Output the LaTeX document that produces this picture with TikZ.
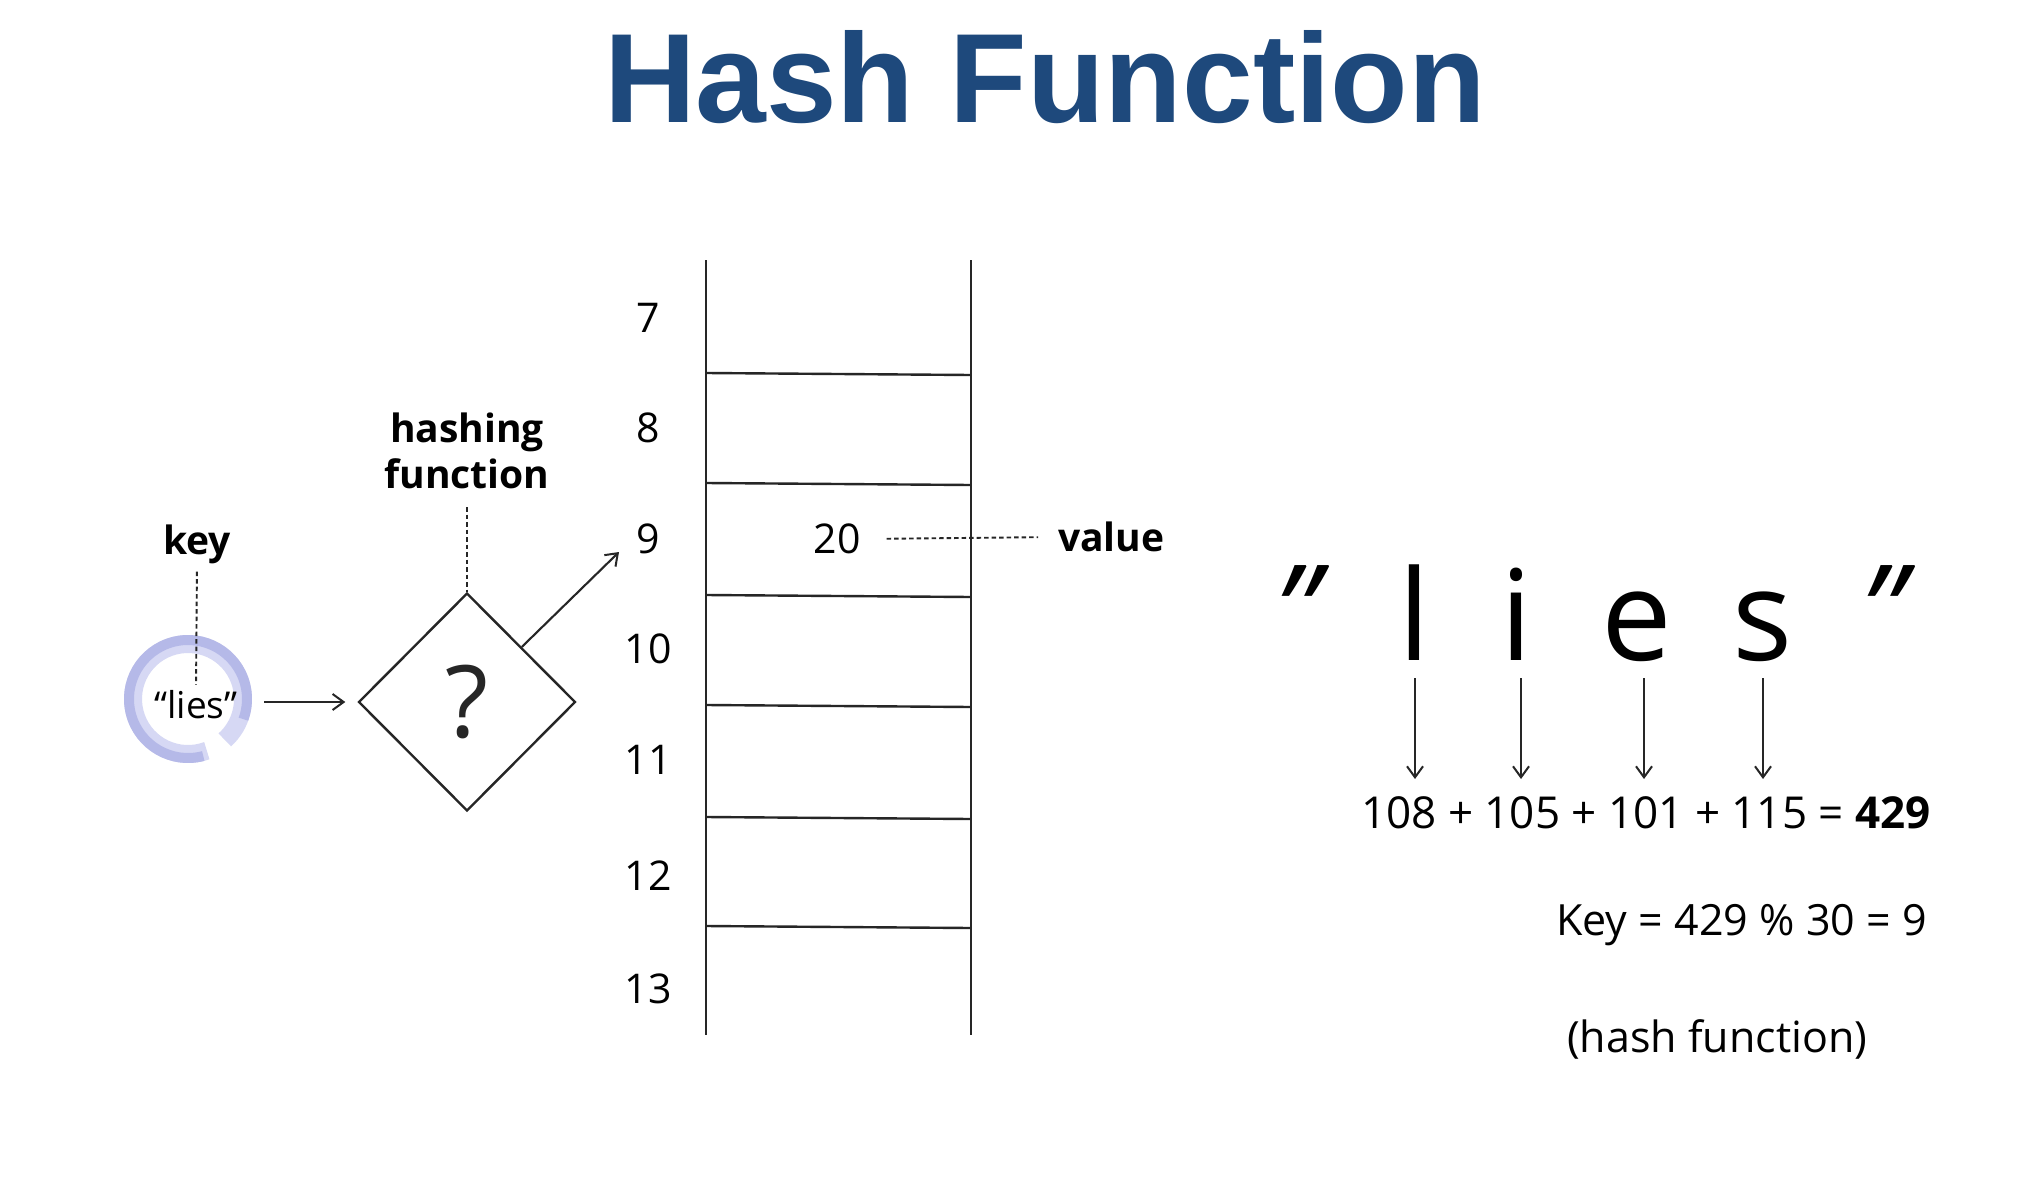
\documentclass[tikz,border=0pt]{standalone}
\usepackage{fontspec}
\setmainfont{Open Sans}
\newfontfamily\titlefont{Liberation Sans}
\usetikzlibrary{arrows.meta,shapes.geometric,calc}
\definecolor{titleblue}{RGB}{30,73,124}
\definecolor{ringc}{RGB}{176,180,230}
\definecolor{ringl}{RGB}{214,216,244}
\begin{document}
\begin{tikzpicture}[x=1pt,y=-1pt,
  tbl/.style={line width=2.4pt, black!85},
  arr/.style={-{Straight Barb[length=11pt,width=16pt,line width=2pt]}, line width=2.1pt, black!85},
  dsh/.style={line width=1.9pt, dash pattern=on 4.5pt off 3pt, black!85},
  num/.style={inner sep=0pt, font=\fontsize{41}{46}\selectfont},
  lbl/.style={inner sep=0pt, font=\bfseries\fontsize{39}{46}\selectfont},
  eq/.style={inner sep=0pt, font=\fontsize{44}{50}\selectfont},
  eqs/.style={inner sep=0pt, font=\fontsize{43}{50}\selectfont},
  big/.style={inner sep=0pt, font=\fontsize{126}{130}\selectfont}]
\useasboundingbox (0,0) rectangle (2036,1180);
\fill[white] (0,0) rectangle (2036,1180);

% title
\node[inner sep=0pt, anchor=base, text=titleblue,
      font=\titlefont\bfseries\fontsize{127}{130}\selectfont] (title) at (1045,123) {Hash Function};

% table
\draw[tbl] (706,260) -- (706,1035);
\draw[tbl] (971,260) -- (971,1035);
\foreach \y in {373,483,595,705,817,926}
  \draw[tbl] (706,\y) -- (971,\y+2);
\foreach \n/\y in {7/318,8/428,9/539,10/649,11/760,12/876,13/989}
  \node[num] (r\n) at (648,\y) {\n};
\node[num] (v20) at (837,539) {20};
\node[lbl, anchor=west] (value) at (1058,537) {value};
\draw[dsh, shorten <=26pt, shorten >=20pt] (v20.east) -- (value.west);

% key ring
\node[circle, minimum size=124pt, inner sep=0pt] (ring) at (188,699) {};
\draw[ringl, line width=18pt] (ring.center) ++(70:55) arc[start angle=70, end angle=408, radius=55];
\draw[ringc, line width=10pt, opacity=0.85] (ring.center) ++(75:59) arc[start angle=75, end angle=380, radius=59];
\node[inner sep=2pt, font=\fontsize{37}{42}\selectfont] (lies) at (196,705) {“lies”};
\node[lbl] (key) at (197,544) {key};
\draw[dsh, shorten <=8pt, shorten >=4pt] (key.south) -- (lies.north);

% hashing function diamond
\node[diamond, draw, line width=2.4pt, black!85, minimum width=217pt, minimum height=218pt, inner sep=0pt,
      font=\fontsize{100}{104}\selectfont] (dia) at (467,702) {\raisebox{-8pt}{?}};
\node[lbl, align=center, inner sep=0pt] (hf) at (467,451) {hashing\\function};
\draw[dsh, shorten <=18pt] (hf.south) -- (dia.north);
\draw[arr, shorten <=14pt, shorten >=12pt] (ring.east |- dia.west) -- (dia.west);
\coordinate (a9) at (619,552);
\draw[arr] (dia.north east) -- (a9);

% right side: "l i e s"
\node[big, anchor=base, xslant=0.22] (ql) at (1290,655) {"};
\node[big, anchor=base] (Ll) at (1414,660) {l};
\node[big, anchor=base] (Li) at (1516,660) {i};
\node[big, anchor=base] (Le) at (1637,660) {e};
\node[big, anchor=base] (Ls) at (1763,660) {s};
\node[big, anchor=base, xslant=0.22] (qr) at (1876,655) {"};

\node[eq, anchor=base west] (sum) at (1361,828) {108 + 105 + 101 + 115 = \textbf{429}};
\coordinate (eqtop) at (0,779);
\draw[arr, shorten <=18pt] ([xshift=1pt]Ll.base) -- ([xshift=1pt]Ll.base |- eqtop);
\draw[arr, shorten <=18pt] ([xshift=5pt]Li.base) -- ([xshift=5pt]Li.base |- eqtop);
\draw[arr, shorten <=18pt] ([xshift=7pt]Le.base) -- ([xshift=7pt]Le.base |- eqtop);
\draw[arr, shorten <=18pt] (Ls.base) -- (Ls.base |- eqtop);

\node[eqs, anchor=base west] (keyeq) at (1556,935) {Key = 429 \% 30 = 9};
\node[eqs, anchor=base west] (hfn) at (1567,1052) {(hash function)};
\end{tikzpicture}
\end{document}
